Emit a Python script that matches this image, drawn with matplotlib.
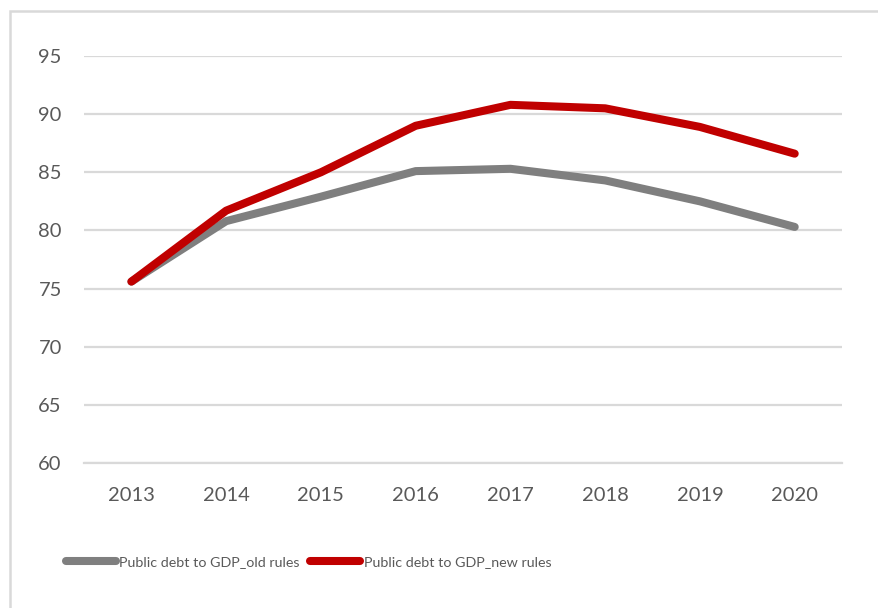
import matplotlib

matplotlib.use("Agg")
import matplotlib.pyplot as plt
from matplotlib.patches import Rectangle

years = ["2013", "2014", "2015", "2016", "2017", "2018", "2019", "2020"]
debt_old_rules = [75.6, 80.8, 82.9, 85.1, 85.3, 84.3, 82.5, 80.3]
debt_new_rules = [75.6, 81.7, 85.0, 89.0, 90.8, 90.5, 88.9, 86.6]
y_ticks = [60, 65, 70, 75, 80, 85, 90, 95]

GRID = "#D9D9D9"
TEXT = "#595959"

plt.rcParams["font.family"] = ["Lato", "DejaVu Sans"]

fig = plt.figure(figsize=(8.79, 6.08), dpi=100)
ax = fig.add_axes([0.0956, 0.2385, 0.8624, 0.6694])

x = range(len(years))
ax.plot(x, debt_old_rules, color="#7F7F7F", lw=5.8, solid_capstyle="round",
        solid_joinstyle="round", label="Public debt to GDP_old rules")
ax.plot(x, debt_new_rules, color="#C00000", lw=5.8, solid_capstyle="round",
        solid_joinstyle="round", label="Public debt to GDP_new rules")

ax.set_xlim(-0.5, len(years) - 0.5)
ax.set_ylim(60, 95)
ax.set_yticks(y_ticks)
ax.set_xticks(list(x))
ax.set_xticklabels(years)
ax.yaxis.grid(True, color=GRID, lw=1.6)
ax.set_axisbelow(True)
for side in ("top", "right", "left"):
    ax.spines[side].set_visible(False)
ax.spines["bottom"].set_color(GRID)
ax.spines["bottom"].set_linewidth(1.6)
ax.tick_params(axis="both", length=0, labelsize=14.5, colors=TEXT)
ax.tick_params(axis="y", pad=16)
ax.tick_params(axis="x", pad=17)

fig.legend(loc="center", bbox_to_anchor=(0.351, 0.076), ncol=2, frameon=False,
           fontsize=10.3, handlelength=3.5, handletextpad=0.27, columnspacing=0.7,
           labelcolor=TEXT)

# outer chart frame, clipped by the figure edge on the right and bottom
fig.patches.append(Rectangle((10 / 879, -0.1), 1.2, 1 - 11 / 608 + 0.1,
                             transform=fig.transFigure, fill=False,
                             edgecolor=GRID, lw=1.8))

fig.savefig("out.png", dpi=100)
